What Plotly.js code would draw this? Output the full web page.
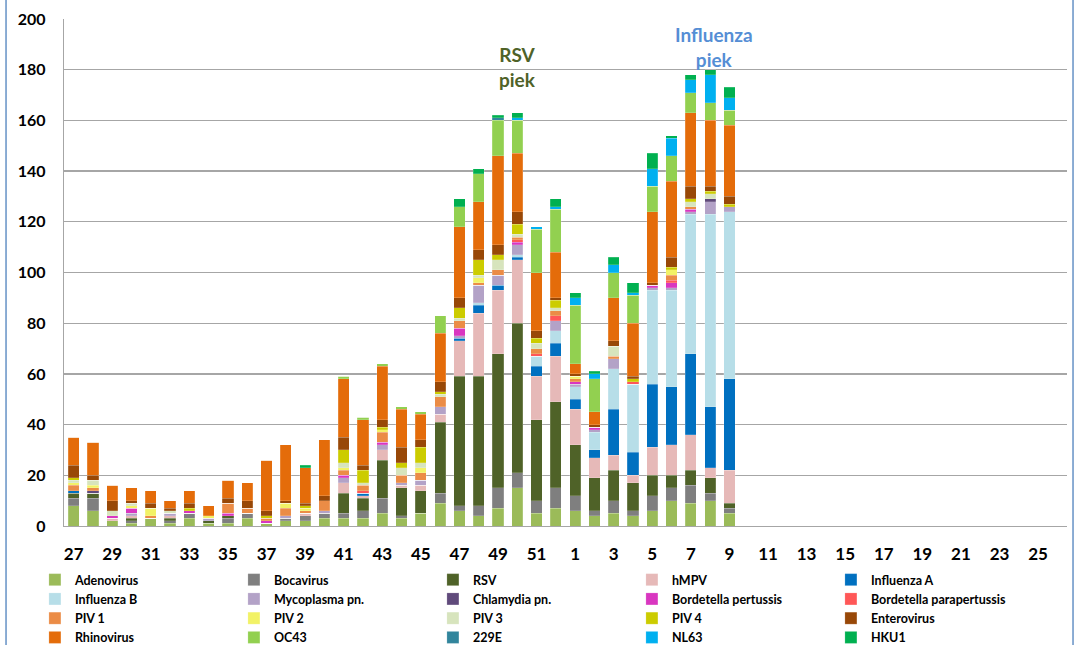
<!DOCTYPE html>
<html>
<head>
<meta charset="utf-8">
<script src="https://cdn.plot.ly/plotly-3.0.1.min.js"></script>
<style>
html,body{margin:0;padding:0;background:#fff;}
#chart{width:1076px;height:645px;}
</style>
</head>
<body>
<div id="chart"></div>
<script>
// Week numbers on the x axis (season week 27 .. week 26)
const weeks = ["27","28","29","30","31","32","33","34","35","36","37","38","39","40","41","42","43","44","45","46","47","48","49","50","51","52",
               "1","2","3","4","5","6","7","8","9","10","11","12","13","14","15","16","17","18","19","20","21","22","23","24","25","26"];
const tickWeeks = ["27","29","31","33","35","37","39","41","43","45","47","49","51","1","3","5","7","9","11","13","15","17","19","21","23","25"];
// Values for weeks 27..52 and 1..9
const adenovirus   = [8,6,2,1,3,1,3,1,1,3,1,2,2,3,3,3,5,3,5,9,6,4,7,15,5,7, 6,4,5,4,6,10,9,10,5];
const bocavirus    = [3,5,0,1,0,1,2,0,2,2,0,1,2,2,2,3,6,1,0,4,2,4,8,6,5,8, 6,2,5,2,6,5,7,3,2];
const rsv          = [2,2,0,1,0,1,0,1,1,0,0,0,0,0,8,5,15,11,9,28,51,51,53,59,32,34, 20,13,12,11,8,5,6,6,2];
const hmpv         = [0,0,1,1,0,1,0,0,0,0,0,0,1,0,4,1,4,1,2,3,14,25,25,25,17,18, 14,8,6,3,11,12,14,4,13];
const influenzaA   = [1,0,0,0,0,0,0,0,0,0,0,0,0,0,0,1,0,0,0,0,1,3,2,1,4,5, 4,3,18,9,25,23,32,24,36];
const influenzaB   = [0,0,0,0,0,0,0,0,0,0,0,0,0,0,0,0,0,0,0,0,0,1,0,1,4,5, 5,7,16,27,37,38,55,76,66];
const mycoplasma   = [0,0,0,1,0,1,0,1,0,0,0,1,0,1,2,0,2,1,2,3,1,7,4,4,0,4, 1,1,4,0,1,1,1,5,2];
const chlamydia    = [0,1,0,0,0,0,0,0,0,0,0,0,0,0,0,0,0,0,0,0,0,0,0,0,0,0, 0,0,0,0,0,0,0,1,0];
const bordPert     = [0,0,1,2,0,0,1,0,1,0,1,0,0,0,1,0,1,0,0,0,3,0,0,1,0,0, 1,1,0,0,1,2,1,0,0];
const bordParapert = [0,0,0,0,0,0,0,0,0,0,0,0,0,0,0,1,0,0,0,0,0,0,0,1,1,2, 0,0,0,1,0,1,0,0,0];
const piv1         = [2,1,0,0,1,0,0,0,4,2,1,3,1,4,2,2,4,3,3,4,3,1,2,1,2,2, 1,0,1,0,0,2,1,0,0];
const piv2         = [1,1,0,1,3,0,0,1,0,0,0,2,1,0,1,0,1,0,2,0,0,2,0,0,0,0, 1,0,0,0,0,2,0,0,0];
const piv3         = [1,2,2,1,0,1,0,0,0,0,0,0,0,0,2,1,0,3,2,1,1,1,4,1,2,1, 0,0,4,0,0,0,2,2,0];
const piv4         = [1,0,0,0,0,0,1,0,0,0,1,0,1,0,5,5,1,2,6,1,4,6,2,4,2,3, 0,0,0,1,0,1,1,1,1];
const enterovirus  = [5,2,4,1,2,1,2,0,2,3,2,1,1,2,5,2,3,6,3,4,4,4,4,5,3,1, 1,1,2,1,1,4,5,2,3];
const rhinovirus   = [11,13,6,5,5,3,5,4,7,7,20,22,14,22,23,18,21,15,10,19,28,19,35,23,23,18, 4,5,17,21,28,30,29,26,28];
const oc43         = [0,0,0,0,0,0,0,0,0,0,0,0,0,0,1,1,1,1,1,7,8,11,14,13,17,17, 23,13,10,11,10,10,8,7,6];
const e229         = [0,0,0,0,0,0,0,0,0,0,0,0,0,0,0,0,0,0,0,0,0,0,1,0,0,0, 0,0,0,0,0,0,0,0,0];
const nl63         = [0,0,0,0,0,0,0,0,0,0,0,0,0,0,0,0,0,0,0,0,0,0,0,1,1,1, 3,2,3,1,7,7,5,11,5];
const hku1         = [0,0,0,0,0,0,0,0,0,0,0,0,1,0,0,0,0,0,0,0,3,2,1,2,0,3, 2,1,3,4,6,1,2,2,4];

const seriesNames = ["Adenovirus","Bocavirus","RSV","hMPV","Influenza A","Influenza B","Mycoplasma pn.","Chlamydia pn.",
  "Bordetella pertussis","Bordetella parapertussis","PIV 1","PIV 2","PIV 3","PIV 4","Enterovirus","Rhinovirus","OC43","229E","NL63","HKU1"];
const seriesValues = [adenovirus,bocavirus,rsv,hmpv,influenzaA,influenzaB,mycoplasma,chlamydia,bordPert,bordParapert,
  piv1,piv2,piv3,piv4,enterovirus,rhinovirus,oc43,e229,nl63,hku1];
const seriesColors = ["#9bbb59","#7f7f7f","#4f6228","#e6b9b8","#0070c0","#b7dee8","#b3a2c7","#604a7b",
  "#d936c0","#ff5757","#eb8c46","#f2f266","#d7e4bd","#cccc00","#984807","#e46c0a","#92d050","#31859c","#00b0f0","#00b050"];

// Peak labels
const rsvPeakWeek = "50";
const fluPeakWeek = "8";

const FONT = "Lato, 'Open Sans', sans-serif";

const traces = seriesNames.map((name, i) => ({
  type: "bar",
  name: name,
  x: weeks.slice(0, seriesValues[i].length),
  y: seriesValues[i],
  marker: {color: seriesColors[i], line: {color: "rgba(255,255,255,0.35)", width: 0.5}},
  hoverinfo: "name+y"
}));

const layout = {
  width: 1076,
  height: 645,
  barmode: "stack",
  bargap: 0.42,
  paper_bgcolor: "#ffffff",
  plot_bgcolor: "#ffffff",
  font: {family: FONT, color: "#000000"},
  margin: {l: 64, r: 9, t: 19, b: 119, pad: 0, autoexpand: false},
  showlegend: true,
  legend: {
    orientation: "h",
    traceorder: "normal",
    x: -0.029, xanchor: "left",
    y: -0.077, yanchor: "top",
    entrywidth: 154,
    entrywidthmode: "pixels",
    font: {family: FONT, size: 12.5, color: "#000", weight: "bold"},
    itemwidth: 30,
    tracegroupgap: 0,
    bgcolor: "rgba(0,0,0,0)"
  },
  xaxis: {
    type: "category",
    categoryorder: "array",
    categoryarray: weeks,
    range: [-0.5, 51.5],
    tickmode: "array",
    tickvals: tickWeeks,
    ticktext: tickWeeks,
    ticks: "",
    ticklabelstandoff: 12,
    tickfont: {family: FONT, size: 17, color: "#000", weight: "bold"},
    showgrid: false,
    showline: true,
    linecolor: "#a6a6a6",
    linewidth: 1.3,
    zeroline: false,
    fixedrange: true
  },
  yaxis: {
    range: [0, 200],
    dtick: 20,
    tick0: 0,
    ticks: "",
    ticklabelstandoff: 14,
    tickfont: {family: FONT, size: 16, color: "#000", weight: "bold"},
    showgrid: true,
    gridcolor: "#a6a6a6",
    gridwidth: 1.3,
    showline: true,
    linecolor: "#a6a6a6",
    linewidth: 1.3,
    zeroline: false,
    fixedrange: true
  },
  annotations: [
    {x: weeks.indexOf(rsvPeakWeek), y: 181, xref: "x", yref: "y", text: "RSV<br>piek", showarrow: false,
     font: {family: FONT, size: 19, color: "#4f6228", weight: "bold"}, align: "center", yanchor: "middle"},
    {x: weeks.indexOf(fluPeakWeek), y: 189, xref: "x", yref: "y", xshift: 4, text: "Influenza<br>piek", showarrow: false,
     font: {family: FONT, size: 19, color: "#558ed5", weight: "bold"}, align: "center", yanchor: "middle"}
  ],
  shapes: [
    {type: "rect", xref: "paper", yref: "paper", x0: -0.0578, x1: 1.006, y0: -0.25, y1: 1.06,
     line: {color: "#4f81bd", width: 1.3}, fillcolor: "rgba(0,0,0,0)", layer: "above"}
  ]
};

Plotly.newPlot("chart", traces, layout, {displayModeBar: false, staticPlot: true});
</script>
</body>
</html>
